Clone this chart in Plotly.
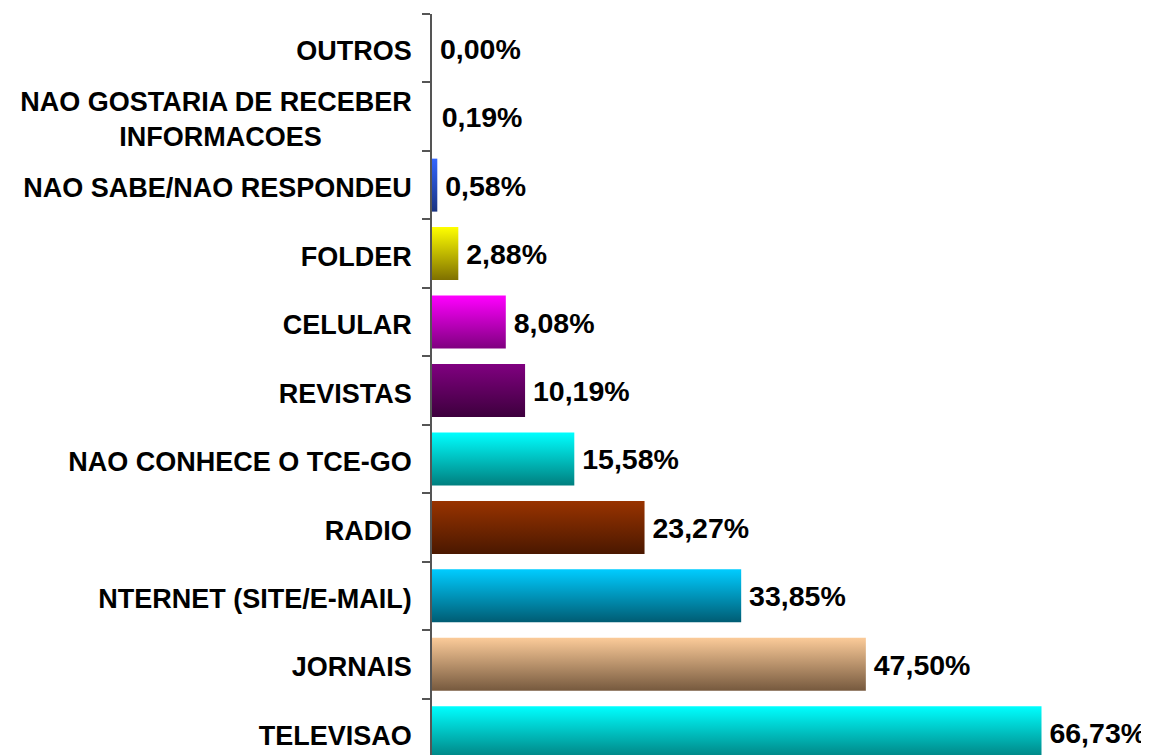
import plotly.graph_objects as go

categories = ["TELEVISAO", "JORNAIS", "NTERNET (SITE/E-MAIL)", "RADIO",
              "NAO CONHECE O TCE-GO", "REVISTAS", "CELULAR", "FOLDER",
              "NAO SABE/NAO RESPONDEU",
              "NAO GOSTARIA DE RECEBER<br>INFORMACOES" + "\u00a0" * 12,
              "OUTROS"]
values = [66.73, 47.50, 33.85, 23.27, 15.58, 10.19, 8.08, 2.88, 0.58, 0.19, 0.00]
value_labels = ["66,73%", "47,50%", "33,85%", "23,27%", "15,58%", "10,19%",
                "8,08%", "2,88%", "0,58%", "0,19%", "0,00%"]
top_colors = ["#00FFFF", "#FBCB99", "#00CCFF", "#993300", "#00FFFF", "#800080",
              "#FF00FF", "#FFFF00", "#3366FF", "#FFFFFF", "#FFFFFF"]
bottom_colors = ["#007F7F", "#76593E", "#005C73", "#4A1800", "#007F7F", "#3D003D",
                 "#7F007F", "#7F7000", "#1A3380", "#FFFFFF", "#FFFFFF"]

half = 0.387
text_drop = 0.05
fig = go.Figure()
for i, (v, c0, c1) in enumerate(zip(values, bottom_colors, top_colors)):
    if v <= 0:
        continue
    fig.add_trace(go.Scatter(
        x=[0, v, v, 0, 0],
        y=[i - half, i - half, i + half, i + half, i - half],
        mode="lines", line=dict(width=0), fill="toself",
        fillgradient=dict(type="vertical", colorscale=[[0, c0], [1, c1]],
                          start=i - half, stop=i + half),
        hoverinfo="skip", showlegend=False))

fig.add_trace(go.Scatter(
    x=values, y=[i - text_drop for i in range(len(values))], mode="text",
    text=["\u00a0" + t for t in value_labels],
    textposition="middle right",
    textfont=dict(family="Liberation Sans", size=28.5, color="black", weight="bold"),
    showlegend=False, hoverinfo="skip", cliponaxis=False))

n = len(categories)
fig.update_layout(
    width=1141, height=747,
    margin=dict(l=424, r=0, t=6, b=0, autoexpand=False),
    paper_bgcolor="white", plot_bgcolor="white",
    font=dict(family="Liberation Sans", color="black"),
    xaxis=dict(range=[0, 78.5], visible=False, showgrid=False, zeroline=False,
               automargin=False),
    yaxis=dict(range=[-0.325, n - 0.5], tickmode="array", automargin=False,
               tickvals=[i - 0.04 for i in range(n)], ticktext=categories,
               tickfont=dict(family="Liberation Sans", size=27, color="black", weight="bold"),
               showgrid=False, zeroline=False,
               showline=True, linecolor="#555555", linewidth=1.5,
               ticks="", ticklabelstandoff=13,
               minor=dict(tickvals=[k - 0.5 for k in range(n + 1)], ticks="outside",
                          ticklen=8, tickcolor="#555555", tickwidth=1.5, showgrid=False)),
)
fig.write_html("out.html")
